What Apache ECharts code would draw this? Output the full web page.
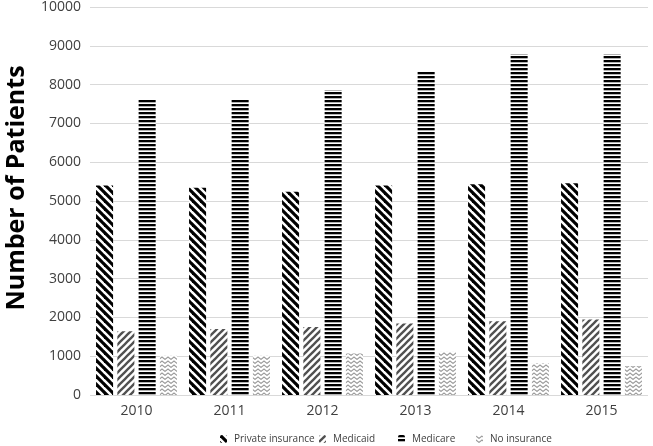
<!DOCTYPE html>
<html>
<head>
<meta charset="utf-8">
<script src="https://cdn.jsdelivr.net/npm/echarts@6/dist/echarts.min.js"></script>
<style>
html,body{margin:0;padding:0;background:#fff;}
#chart{width:653px;height:446px;}
</style>
</head>
<body>
<div id="chart"></div>
<script>
const years = ['2010', '2011', '2012', '2013', '2014', '2015'];
const seriesNames = ['Private insurance', 'Medicaid', 'Medicare', 'No insurance'];
const privateInsurance = [5400, 5340, 5240, 5400, 5430, 5460];
const medicaid = [1640, 1700, 1750, 1840, 1900, 1945];
const medicare = [7630, 7610, 7860, 8340, 8790, 8790];
const noInsurance = [1010, 1010, 1070, 1110, 815, 745];
const yTicks = [0, 1000, 2000, 3000, 4000, 5000, 6000, 7000, 8000, 9000, 10000];

function makePattern(w, h, draw) {
  const c = document.createElement('canvas');
  c.width = w; c.height = h;
  const ctx = c.getContext('2d');
  ctx.fillStyle = '#fff';
  ctx.fillRect(0, 0, w, h);
  draw(ctx, w, h);
  return { image: c, repeat: 'repeat' };
}
function diag(ctx, s, dir, width, color) {
  ctx.strokeStyle = color;
  ctx.lineWidth = width;
  for (let k = -1; k <= 1; k++) {
    ctx.beginPath();
    if (dir > 0) { // "\" direction
      ctx.moveTo(-2, -2 + k * s); ctx.lineTo(s + 2, s + 2 + k * s);
    } else {       // "/" direction
      ctx.moveTo(-2, s + 2 + k * s); ctx.lineTo(s + 2, -2 + k * s);
    }
    ctx.stroke();
  }
}
const patPrivate = makePattern(8, 8, (ctx, w) => diag(ctx, w, 1, 3.2, '#000'));
const patMedicaid = makePattern(7, 7, (ctx, w) => diag(ctx, w, -1, 2.3, '#505050'));
const patMedicare = makePattern(4, 4, (ctx) => { ctx.fillStyle = '#000'; ctx.fillRect(0, 0, 4, 2.3); });
const patNone = makePattern(6, 4, (ctx) => {
  ctx.strokeStyle = '#9a9a9a'; ctx.lineWidth = 1.1;
  ctx.beginPath(); ctx.moveTo(-0.5, 0.6); ctx.lineTo(3, 3.4); ctx.lineTo(6.5, 0.6); ctx.stroke();
});
const patterns = [patPrivate, patMedicaid, patMedicare, patNone];
const values = [privateInsurance, medicaid, medicare, noInsurance];

const chart = echarts.init(document.getElementById('chart'), null, { renderer: 'canvas' });
const legendLefts = [215, 314, 393, 471];
const option = {
  animation: false,
  backgroundColor: '#fff',
  textStyle: { fontFamily: 'Open Sans' },
  grid: { left: 90, right: 5, top: 6, bottom: 51, containLabel: false },
  legend: seriesNames.map((n, i) => ({
    data: [n], left: legendLefts[i], top: 429,
    itemWidth: 7, itemHeight: 8, itemGap: 5,
    textStyle: { fontSize: 10, color: '#404040', fontFamily: 'Open Sans', padding: [0, 0, 0, 2] }
  })),
  xAxis: {
    type: 'category', data: years,
    axisLine: { show: false }, axisTick: { show: false },
    axisLabel: { fontSize: 14, color: '#404040', margin: 9 }
  },
  yAxis: {
    type: 'value', min: 0, max: 10000, interval: 1000,
    axisLine: { show: false }, axisTick: { show: false },
    axisLabel: { fontSize: 14, color: '#404040', margin: 9,
      formatter: v => yTicks.includes(v) ? String(v) : '' },
    splitLine: { lineStyle: { color: '#d9d9d9', width: 1 } }
  },
  graphic: [{
    type: 'text', x: 17, y: 188, rotation: Math.PI / 2,
    style: { text: 'Number of Patients', fontSize: 25, fontWeight: 'bold',
      fontFamily: 'Open Sans', fill: '#000', align: 'center', verticalAlign: 'middle' }
  }],
  series: seriesNames.map((n, i) => ({
    name: n, type: 'bar', data: values[i],
    barGap: '25%', barCategoryGap: '13%',
    itemStyle: { color: patterns[i] }
  }))
};
chart.setOption(option);
</script>
</body>
</html>
